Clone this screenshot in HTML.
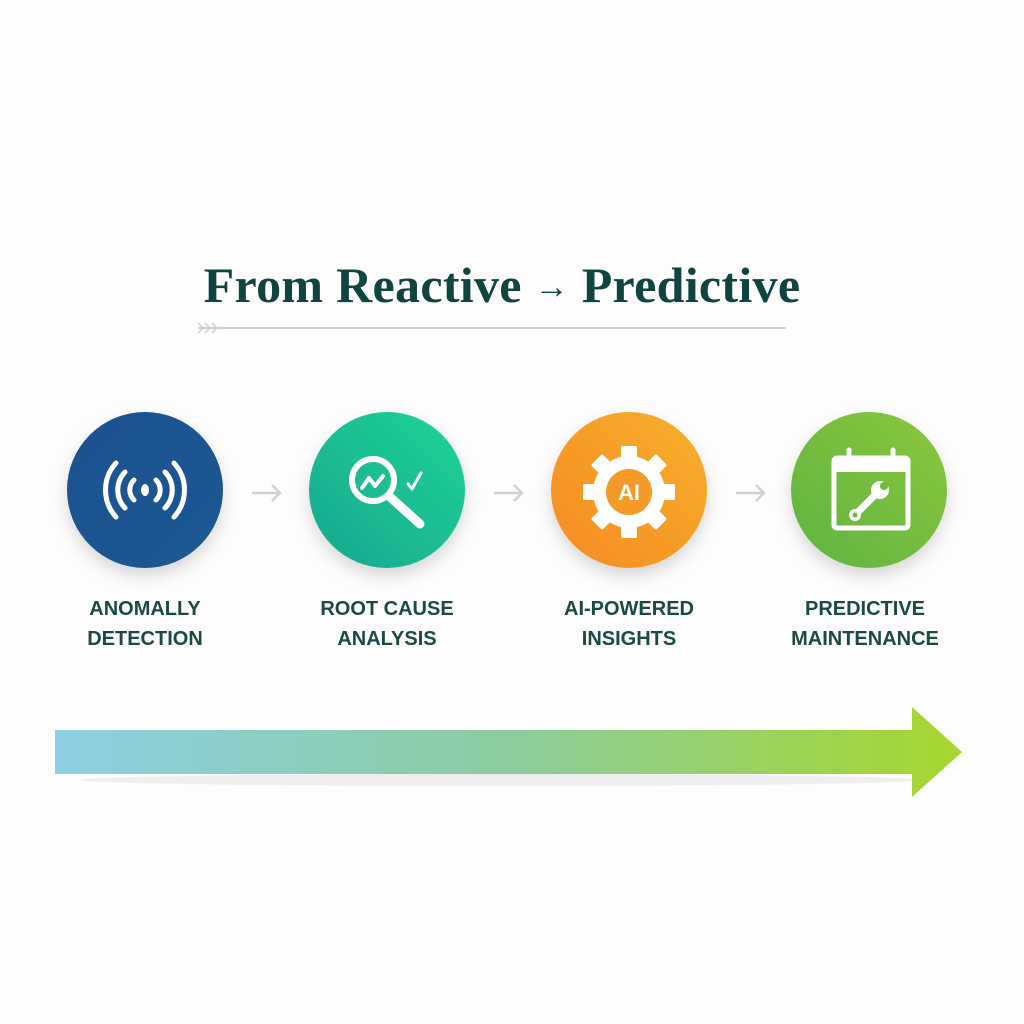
<!DOCTYPE html>
<html><head><meta charset="utf-8"><style>
body{margin:0;width:1024px;height:1024px;background:#fdfdfd;position:relative;overflow:hidden;font-family:"Liberation Sans",sans-serif}
.t{position:absolute;left:0;width:1004px;top:256px;text-align:center;font-family:"Liberation Serif",serif;font-size:50px;color:#0f4440;font-weight:bold;letter-spacing:0.3px}
.t span{font-size:34px;font-weight:normal;vertical-align:4px}
.lab{position:absolute;width:220px;text-align:center;top:594px;font-size:20px;font-weight:bold;color:#1b4a45;line-height:30px}
</style></head><body>
<div class="t">From Reactive <span>→</span> Predictive</div>
<svg width="1024" height="1024" style="position:absolute;left:0;top:0">
<defs>
<linearGradient id="g1" x1="0" y1="0" x2="1" y2="1"><stop offset="0" stop-color="#1b4f92"/><stop offset="1" stop-color="#1a5a92"/></linearGradient>
<linearGradient id="g2" x1="0" y1="1" x2="1" y2="0"><stop offset="0" stop-color="#17a88f"/><stop offset="1" stop-color="#1fd396"/></linearGradient>
<linearGradient id="g3" x1="0" y1="1" x2="1" y2="0"><stop offset="0" stop-color="#f58b26"/><stop offset="1" stop-color="#f7b02a"/></linearGradient>
<linearGradient id="g4" x1="0" y1="1" x2="1" y2="0"><stop offset="0" stop-color="#5fb245"/><stop offset="1" stop-color="#8ac83a"/></linearGradient>
<linearGradient id="ga" x1="0" x2="1"><stop offset="0" stop-color="#8dd0e2"/><stop offset="0.5" stop-color="#8ccca0"/><stop offset="1" stop-color="#a8d62c"/></linearGradient>
<filter id="sh" x="-30%" y="-30%" width="160%" height="170%"><feDropShadow dx="0" dy="8" stdDeviation="8" flood-color="#000" flood-opacity="0.15"/></filter>
</defs>
<line x1="198" y1="328" x2="786" y2="328" stroke="#cfcfcf" stroke-width="2"/>
<g stroke="#cfcfcf" stroke-width="1.5" fill="none"><path d="M198 323l5 5-5 5M205 323l5 5-5 5M212 323l5 5-5 5"/></g>
<circle cx="145" cy="490" r="78" fill="url(#g1)" filter="url(#sh)"/>
<circle cx="387" cy="490" r="78" fill="url(#g2)" filter="url(#sh)"/>
<circle cx="629" cy="490" r="78" fill="url(#g3)" filter="url(#sh)"/>
<circle cx="869" cy="490" r="78" fill="url(#g4)" filter="url(#sh)"/>
<g stroke="#d0d0d0" stroke-width="2.5" fill="none">
<path d="M252 493h28M272 485l8 8-8 8"/><path d="M494 493h28M514 485l8 8-8 8"/><path d="M736 493h28M756 485l8 8-8 8"/></g>
<g stroke="#fff" stroke-width="5" fill="none" stroke-linecap="round">
<path d="M134 480a14 14 0 0 0 0 20M156 480a14 14 0 0 1 0 20"/>
<path d="M125 472a26 26 0 0 0 0 36M165 472a26 26 0 0 1 0 36"/>
<path d="M116 463a40 40 0 0 0 0 54M174 463a40 40 0 0 1 0 54"/></g>
<ellipse cx="145" cy="490" rx="4" ry="6" fill="#fff"/>
<g stroke="#fff" fill="none" stroke-linecap="round" stroke-linejoin="round">
<circle cx="373" cy="480" r="21" stroke-width="6"/>
<path d="M362 488l7-10 6 8 8-10" stroke-width="4"/>
<path d="M390 497l30 27" stroke-width="9"/>
<path d="M408 484l4 5 9-16" stroke-width="3"/></g>
<g fill="#fff" transform="translate(629,492)">
<g id="tooth"><rect x="-8" y="-46" width="16" height="16" rx="2"/></g>
<use href="#tooth" transform="rotate(45)"/><use href="#tooth" transform="rotate(90)"/><use href="#tooth" transform="rotate(135)"/><use href="#tooth" transform="rotate(180)"/><use href="#tooth" transform="rotate(225)"/><use href="#tooth" transform="rotate(270)"/><use href="#tooth" transform="rotate(315)"/>
<circle r="36"/><circle r="23" fill="#f59a28"/></g>
<text x="629" y="500" text-anchor="middle" font-family="Liberation Sans" font-weight="bold" font-size="22" fill="#fff">AI</text>
<rect x="834" y="458" width="74" height="70" rx="3" fill="none" stroke="#fff" stroke-width="5"/>
<rect x="834" y="458" width="74" height="14" fill="#fff"/>
<g stroke="#fff" stroke-width="5" stroke-linecap="round"><path d="M849 450v14M893 450v14"/></g>
<g stroke="#fff" stroke-width="7" stroke-linecap="round"><path d="M857 513l20-20"/></g>
<circle cx="880" cy="490" r="9" fill="#fff"/><circle cx="884" cy="486" r="4" fill="#6dba40"/>
<circle cx="855" cy="515" r="6" fill="#fff"/><circle cx="855" cy="515" r="2.5" fill="#6dba40"/>
<ellipse cx="500" cy="780" rx="420" ry="6" fill="#000" opacity="0.06"/>
<path d="M55 730H912V707L962 752 912 797V774H55Z" fill="url(#ga)"/>
</svg>
<div class="lab" style="left:35px">ANOMALLY<br>DETECTION</div>
<div class="lab" style="left:277px">ROOT CAUSE<br>ANALYSIS</div>
<div class="lab" style="left:519px">AI-POWERED<br>INSIGHTS</div>
<div class="lab" style="left:755px">PREDICTIVE<br>MAINTENANCE</div>
</body></html>
